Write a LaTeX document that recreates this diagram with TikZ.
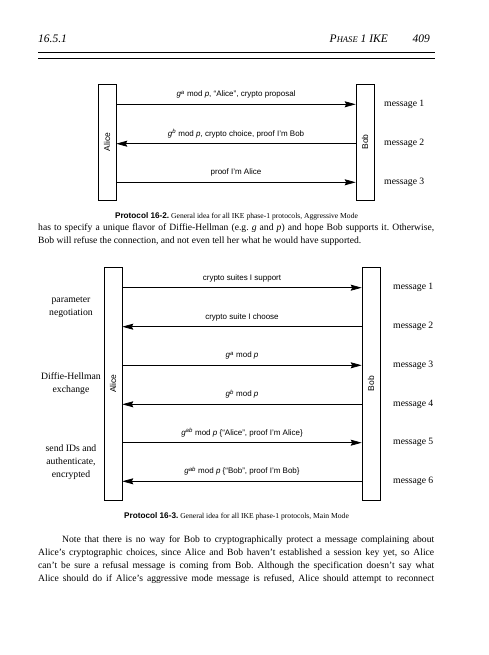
\documentclass[tikz,border=0pt]{standalone}
\usepackage{fontspec}
\setmainfont{Liberation Serif}
\setsansfont{Liberation Sans}
\usetikzlibrary{arrows.meta,positioning}
\frenchspacing

\newcommand{\gto}[1]{\textit{g}\textsuperscript{\textit{#1}}}
\newcommand{\modp}{mod \textit{p}}

\begin{document}
\begin{tikzpicture}[x=1pt,y=-1pt,>={Stealth[length=11pt,width=6pt,inset=1.5pt]},
      life/.style={draw,line width=0.6pt,minimum width=18pt,inner sep=0pt},
      who/.style={rotate=90,font=\sffamily\fontsize{8.5}{10}\selectfont},
      msg/.style={anchor=west,inner sep=0pt,font=\fontsize{9.7}{12}\selectfont},
      side/.style={align=center,inner sep=0pt,font=\fontsize{9.7}{12.8}\selectfont},
      body/.style={anchor=base west,inner sep=0pt,font=\fontsize{9.6}{13}\selectfont},
      protcap/.style={anchor=base,inner sep=0pt,font=\fontsize{7.6}{9}\selectfont},
      head/.style={inner sep=0pt,font=\itshape\fontsize{11.5}{13}\selectfont}]

    \useasboundingbox (0,0) rectangle (488,655);

    % running head
    \node[head,anchor=base west] (sec) at (38,43) {16.5.1};
    \node[head,anchor=base east] (pg) at (430,43) {409};
    \node[head,anchor=base east] (title) at (388,43) {P{\fontsize{8.6}{10}\selectfont HASE} 1 IKE};
    \draw[line width=1.2pt] (38,52.7) -- (435,52.7);
    \draw[line width=0.7pt] (38,58.7) -- (435,58.7);

    % Protocol 16-2
    \node[life,minimum height=116pt] (alice1) at (107,142) {};
    \node[life,minimum height=116pt] (bob1) at (365,142) {};
    \node[who] at (alice1.center) {Alice};
    \node[who] at (bob1.center) {Bob};
    \node[msg] (m11) at (384,104.3) {message 1};
    \node[msg] (m12) at (384,143.7) {message 2};
    \node[msg] (m13) at (384,182.3) {message 3};

    \path[->,line width=0.7pt,every node/.style={above=2pt,font=\sffamily\fontsize{8}{10}\selectfont}]
    (alice1.east |- m11) edge node {\gto{a} \modp, “Alice”, crypto proposal} (bob1.west |- m11)
    (bob1.west |- m12) edge node {\gto{b} \modp, crypto choice, proof I’m Bob} (alice1.east |- m12)
    (alice1.east |- m13) edge node {proof I’m Alice} (bob1.west |- m13)
    ;

    \node[protcap] (cap1) at (236.5,218) {{\sffamily\bfseries\fontsize{8.2}{9}\selectfont Protocol 16-2.} General idea for all IKE phase-1 protocols, Aggressive Mode};

    \node[body] (p1a) at (38,230.5) {\makebox[396pt][s]{has to specify a unique flavor of Diffie-Hellman (e.g. \textit{g} and \textit{p}) and hope Bob supports it. Otherwise,}};
    \node[body] (p1b) at (38,243.8) {Bob will refuse the connection, and not even tell her what he would have supported.};

    % Protocol 16-3
    \node[life,minimum height=233pt] (alice2) at (113,383.5) {};
    \node[life,minimum height=233pt] (bob2) at (371,383.5) {};
    \node[who] at (alice2.center) {Alice};
    \node[who] at (bob2.center) {Bob};
    \node[msg] (m21) at (393,287.7) {message 1};
    \node[msg] (m22) at (393,326.7) {message 2};
    \node[msg] (m23) at (393,365.3) {message 3};
    \node[msg] (m24) at (393,404.3) {message 4};
    \node[msg] (m25) at (393,442.7) {message 5};
    \node[msg] (m26) at (393,481.3) {message 6};
    \node[side] (neg) at (71,307.3) {parameter\\negotiation};
    \node[side] (dh) at (71,384) {Diffie-Hellman\\exchange};
    \node[side] (auth) at (71,462) {send IDs and\\authenticate,\\encrypted};

    \path[->,line width=0.7pt,every node/.style={above=2pt,font=\sffamily\fontsize{8}{10}\selectfont}]
    (alice2.east |- m21) edge node {crypto suites I support} (bob2.west |- m21)
    (bob2.west |- m22) edge node {crypto suite I choose} (alice2.east |- m22)
    (alice2.east |- m23) edge node {\gto{a} \modp} (bob2.west |- m23)
    (bob2.west |- m24) edge node {\gto{b} \modp} (alice2.east |- m24)
    (alice2.east |- m25) edge node {\gto{ab} \modp\ \{“Alice”, proof I’m Alice\}} (bob2.west |- m25)
    (bob2.west |- m26) edge node {\gto{ab} \modp\ \{“Bob”, proof I’m Bob\}} (alice2.east |- m26)
    ;

    \node[protcap] (cap2) at (236.5,518) {{\sffamily\bfseries\fontsize{8.2}{9}\selectfont Protocol 16-3.} General idea for all IKE phase-1 protocols, Main Mode};

    \node[body] (p2a) at (62,542.5) {\makebox[372pt][s]{Note that there is no way for Bob to cryptographically protect a message complaining about}};
    \node[body] (p2b) at (38,555.8) {\makebox[396pt][s]{Alice’s cryptographic choices, since Alice and Bob haven’t established a session key yet, so Alice}};
    \node[body] (p2c) at (38,568.5) {\makebox[396pt][s]{can’t be sure a refusal message is coming from Bob. Although the specification doesn’t say what}};
    \node[body] (p2d) at (38,581.5) {\makebox[396pt][s]{Alice should do if Alice’s aggressive mode message is refused, Alice should attempt to reconnect}};
  \end{tikzpicture}
\end{document}
